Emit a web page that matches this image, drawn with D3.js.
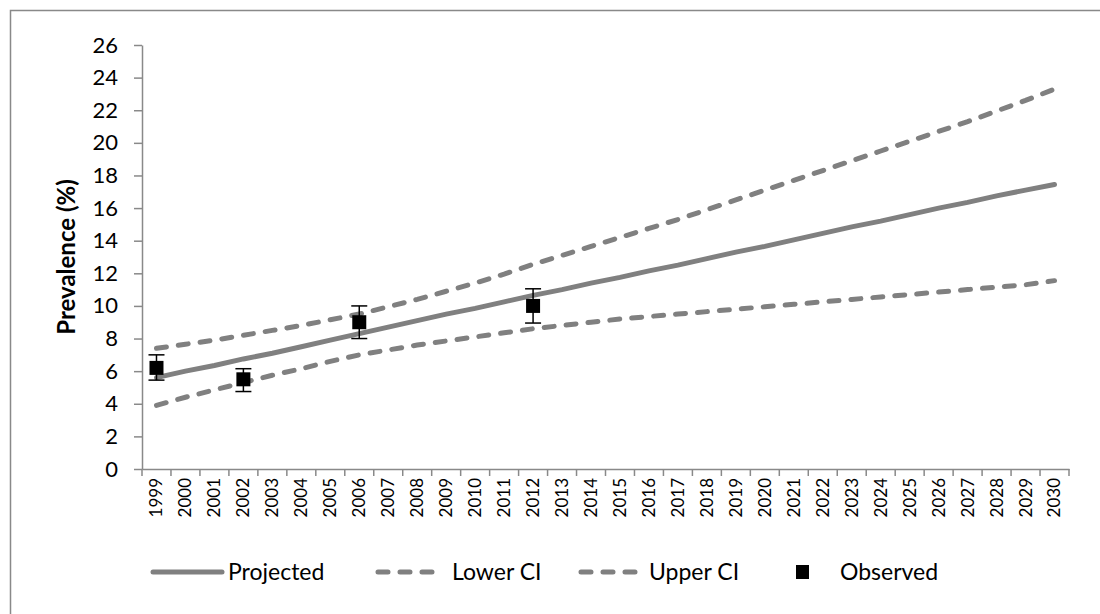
<!DOCTYPE html>
<html>
<head>
<meta charset="utf-8">
<script src="https://cdn.jsdelivr.net/npm/d3@7"></script>
<style>
  body { margin: 0; background: #fff; }
  text { font-family: Lato, 'Open Sans', sans-serif; fill: #000; }
</style>
</head>
<body>
<div id="chart"></div>
<script>
// Values
const years = [1999, 2000, 2001, 2002, 2003, 2004, 2005, 2006, 2007, 2008, 2009, 2010,
    2011, 2012, 2013, 2014, 2015, 2016, 2017, 2018, 2019, 2020, 2021, 2022, 2023, 2024,
    2025, 2026, 2027, 2028, 2029, 2030];
const projected = [5.6, 6.0, 6.35, 6.75, 7.1, 7.5, 7.9, 8.3, 8.7, 9.1, 9.5, 9.85,
    10.25, 10.65, 11.0, 11.4, 11.75, 12.15, 12.5, 12.9, 13.3, 13.65, 14.05, 14.45, 14.85, 15.2,
    15.6, 16.0, 16.35, 16.75, 17.1, 17.45];
const lowerCI = [3.9, 4.4, 4.85, 5.3, 5.75, 6.15, 6.6, 7.0, 7.3, 7.6, 7.85, 8.1,
    8.35, 8.6, 8.8, 9.0, 9.2, 9.35, 9.5, 9.65, 9.8, 9.95, 10.1, 10.25, 10.4, 10.55,
    10.7, 10.85, 11.0, 11.15, 11.3, 11.55];
const upperCI = [7.4, 7.65, 7.9, 8.2, 8.5, 8.8, 9.15, 9.5, 9.95, 10.4, 10.9, 11.4,
    11.95, 12.55, 13.1, 13.65, 14.2, 14.75, 15.3, 15.9, 16.5, 17.1, 17.7, 18.3, 18.9, 19.5,
    20.1, 20.7, 21.3, 21.95, 22.6, 23.3];
const obsYears = [1999, 2002, 2006, 2012];
const obsValues = [6.2, 5.5, 9.0, 10.0];
const obsLow = [5.45, 4.75, 8.0, 8.95];
const obsHigh = [7.0, 6.15, 10.0, 11.05];
const yTicks = [0, 2, 4, 6, 8, 10, 12, 14, 16, 18, 20, 22, 24, 26];

const W = 1100, H = 614;
const grey = '#808080';
const axisGrey = '#898989';

const svg = d3.select('#chart').append('svg')
    .attr('width', W)
    .attr('height', H);

// chart frame (only top and left edges fall inside the picture)
svg.append('path')
    .attr('d', 'M10.5,' + H + 'V10.5H' + W)
    .attr('fill', 'none')
    .attr('stroke', axisGrey)
    .attr('stroke-width', 1.5);

const x = d3.scaleBand().domain(years).range([142, 1069]);
const y = d3.scaleLinear().domain([0, 26]).range([469, 45]);
const cx = d => x(d) + x.bandwidth() / 2;

// y axis
const yAxis = svg.append('g')
    .attr('transform', 'translate(142,0)')
    .call(d3.axisLeft(y).tickValues(yTicks).tickSize(8).tickPadding(16).tickSizeOuter(0));
yAxis.selectAll('text').style('font-size', '22px');

// x axis, ticks between categories
const xAxis = svg.append('g')
    .attr('transform', 'translate(0,469)')
    .call(d3.axisBottom(x).tickSize(0).tickSizeOuter(0));
xAxis.selectAll('text')
    .attr('transform', 'rotate(-90)')
    .attr('text-anchor', 'end')
    .attr('dx', '-9px')
    .attr('dy', '0.35em')
    .attr('x', 0)
    .attr('y', 0)
    .style('font-size', '17px');
svg.append('g')
    .selectAll('line')
    .data(years.concat([null]))
    .enter()
    .append('line')
    .attr('x1', d => d === null ? 1069 : x(d))
    .attr('x2', d => d === null ? 1069 : x(d))
    .attr('y1', 469)
    .attr('y2', 476)
    .attr('stroke', axisGrey)
    .attr('stroke-width', 1.5);

svg.selectAll('.domain').attr('stroke', axisGrey).attr('stroke-width', 1.5);
yAxis.selectAll('.tick line').attr('stroke', axisGrey).attr('stroke-width', 1.5);

// y axis title
svg.append('text')
    .attr('transform', 'translate(75,257) rotate(-90)')
    .attr('text-anchor', 'middle')
    .style('font-size', '24px')
    .style('font-weight', 'bold')
    .text('Prevalence (%)');

// series lines
const line = d3.line()
    .x((d, i) => cx(years[i]))
    .y(d => y(d));

const series = [
    { name: 'Projected', values: projected, dash: null },
    { name: 'Lower CI', values: lowerCI, dash: '10,12' },
    { name: 'Upper CI', values: upperCI, dash: '10,12' },
];

svg.append('g')
    .selectAll('path')
    .data(series)
    .enter()
    .append('path')
    .attr('d', d => line(d.values))
    .attr('fill', 'none')
    .attr('stroke', grey)
    .attr('stroke-width', 5)
    .attr('stroke-linecap', 'round')
    .attr('stroke-dasharray', d => d.dash);

// observed points with error bars
const obs = obsYears.map((yr, i) => ({ yr: yr, v: obsValues[i], lo: obsLow[i], hi: obsHigh[i] }));
const og = svg.append('g').selectAll('g').data(obs).enter().append('g');
og.append('line')
    .attr('x1', d => cx(d.yr)).attr('x2', d => cx(d.yr))
    .attr('y1', d => y(d.lo)).attr('y2', d => y(d.hi))
    .attr('stroke', '#000').attr('stroke-width', 1.5);
og.selectAll('.cap')
    .data(d => [{ yr: d.yr, v: d.lo }, { yr: d.yr, v: d.hi }])
    .enter()
    .append('line')
    .attr('x1', d => cx(d.yr) - 8).attr('x2', d => cx(d.yr) + 8)
    .attr('y1', d => y(d.v)).attr('y2', d => y(d.v))
    .attr('stroke', '#000').attr('stroke-width', 1.5);
og.append('rect')
    .attr('x', d => cx(d.yr) - 7)
    .attr('y', d => y(d.v) - 7)
    .attr('width', 14)
    .attr('height', 14)
    .attr('fill', '#000');

// legend
const ly = 572;
const legend = svg.append('g');
const legendItems = [
    { name: 'Projected', x1: 153, x2: 222, tx: 228, dash: null },
    { name: 'Lower CI', x1: 378, x2: 435, tx: 452, dash: '10,12' },
    { name: 'Upper CI', x1: 581, x2: 638, tx: 649, dash: '10,12' },
];
legendItems.forEach(d => {
    legend.append('line')
        .attr('x1', d.x1).attr('x2', d.x2)
        .attr('y1', ly).attr('y2', ly)
        .attr('stroke', grey)
        .attr('stroke-width', 5)
        .attr('stroke-linecap', 'round')
        .attr('stroke-dasharray', d.dash);
    legend.append('text')
        .attr('x', d.tx).attr('y', ly)
        .attr('dy', '0.35em')
        .style('font-size', '23px')
        .text(d.name);
});
legend.append('rect')
    .attr('x', 796).attr('y', ly - 7)
    .attr('width', 13).attr('height', 14)
    .attr('fill', '#000');
legend.append('text')
    .attr('x', 840).attr('y', ly)
    .attr('dy', '0.35em')
    .style('font-size', '23px')
    .text('Observed');
</script>
</body>
</html>
